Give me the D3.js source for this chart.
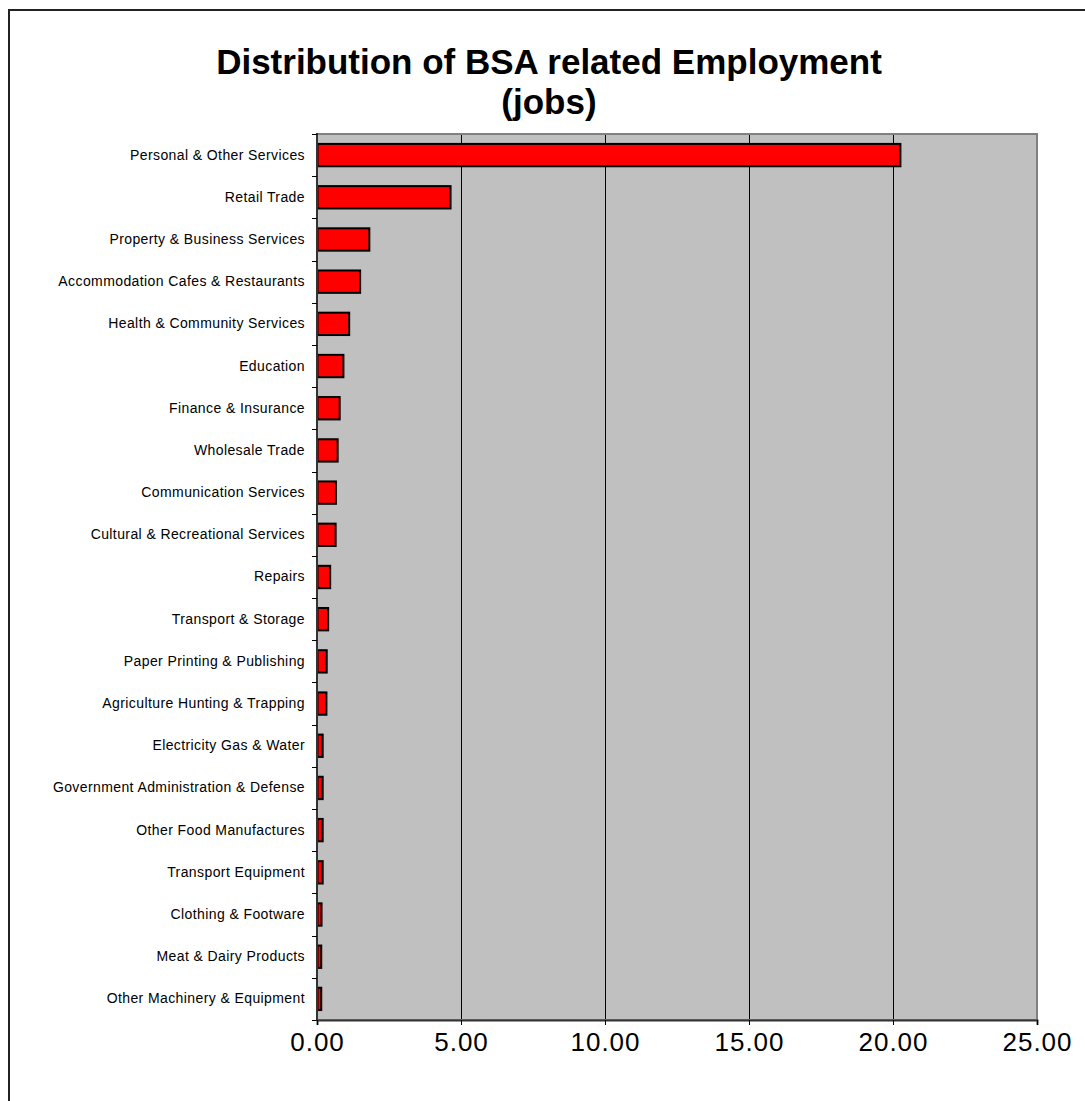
<!DOCTYPE html>
<html><head><meta charset="utf-8">
<script src="https://cdn.jsdelivr.net/npm/d3@7/dist/d3.min.js"></script>
<style>body{margin:0;background:#fff;} svg{display:block;}</style>
</head><body><svg id="c" width="1085" height="1101"></svg>
<script>
const categories = [
  "Personal & Other Services","Retail Trade","Property & Business Services",
  "Accommodation Cafes & Restaurants","Health & Community Services","Education",
  "Finance & Insurance","Wholesale Trade","Communication Services",
  "Cultural & Recreational Services","Repairs","Transport & Storage",
  "Paper Printing & Publishing","Agriculture Hunting & Trapping","Electricity Gas & Water",
  "Government Administration & Defense","Other Food Manufactures","Transport Equipment",
  "Clothing & Footware","Meat & Dairy Products","Other Machinery & Equipment"
];
const jobs = [20.24,4.62,1.80,1.48,1.10,0.90,0.77,0.70,0.64,0.63,0.44,0.37,0.32,0.31,
  0.18,0.18,0.18,0.18,0.14,0.13,0.13];
const xTicks = [0,5,10,15,20,25];
const titleLines = ["Distribution of BSA related Employment","(jobs)"];

const svg = d3.select("#c");
const L = 317, R = 1037, T = 134, B = 1020;
const FONT = "'Liberation Sans', Arial, sans-serif";

// outer frame
svg.append("rect").attr("x",9).attr("y",10).attr("width",1200).attr("height",1200)
  .attr("fill","none").attr("stroke","#222").attr("stroke-width",2);

const xs = d3.scaleLinear().domain([0,25]).range([L,R]);
const y = d3.scaleBand().domain(categories).range([T,B]).paddingInner(0.47).paddingOuter(0.235);
const yb = d3.scaleBand().domain(categories).range([T,B]);

// plot background
svg.append("rect").attr("x",L).attr("y",T).attr("width",R-L).attr("height",B-T)
  .attr("fill","#c0c0c0");

// gridlines
svg.append("g").selectAll("line").data(xTicks.filter(d=>d>0&&d<25)).join("line")
  .attr("x1",d=>Math.round(xs(d))+0.5).attr("x2",d=>Math.round(xs(d))+0.5)
  .attr("y1",T).attr("y2",B).attr("stroke","#000").attr("stroke-width",1);

// plot border
svg.append("rect").attr("x",L).attr("y",T).attr("width",R-L).attr("height",B-T)
  .attr("fill","none").attr("stroke","#808080").attr("stroke-width",2);

// bars
svg.append("g").selectAll("rect").data(categories).join("rect")
  .attr("x",xs(0)+0.5).attr("y",d=>y(d))
  .attr("width",(d,i)=>xs(jobs[i])-xs(0)).attr("height",y.bandwidth())
  .attr("fill","#ff0000").attr("stroke","#000").attr("stroke-width",2);

// y axis
const yAxis = d3.axisLeft(yb).tickSize(0).tickPadding(12);
const gy = svg.append("g").attr("transform",`translate(${L},0)`).call(yAxis);
gy.select(".domain").remove();
gy.selectAll("text").attr("font-family",FONT)
  .attr("font-size","14px").attr("letter-spacing","0.4px").attr("fill","#000");
svg.append("line").attr("x1",L).attr("x2",L).attr("y1",T-1).attr("y2",B+1)
  .attr("stroke","#333").attr("stroke-width",2);
const bounds = categories.map(c=>yb(c)).concat([B]);
svg.append("g").selectAll("line").data(bounds).join("line")
  .attr("x1",L-5).attr("x2",L).attr("y1",d=>Math.round(d)+0.5).attr("y2",d=>Math.round(d)+0.5)
  .attr("stroke","#000").attr("stroke-width",1);

// x axis
const xAxis = d3.axisBottom(xs).tickValues(xTicks).tickFormat(d3.format(".2f")).tickSize(5).tickPadding(8);
const gx = svg.append("g").attr("transform",`translate(0,${B})`).call(xAxis);
gx.select(".domain").attr("stroke","#333").attr("stroke-width",2);
gx.selectAll(".tick line").attr("stroke","#000");
gx.selectAll("text").attr("font-family",FONT)
  .attr("font-size","26px").attr("letter-spacing","1px").attr("fill","#000");

// title
svg.append("g").selectAll("text").data(titleLines).join("text")
  .attr("x",549).attr("y",(d,i)=>74+i*40).attr("text-anchor","middle")
  .attr("font-family",FONT).attr("font-weight","bold")
  .attr("font-size","35px").attr("fill","#000").text(d=>d);
</script></body></html>
